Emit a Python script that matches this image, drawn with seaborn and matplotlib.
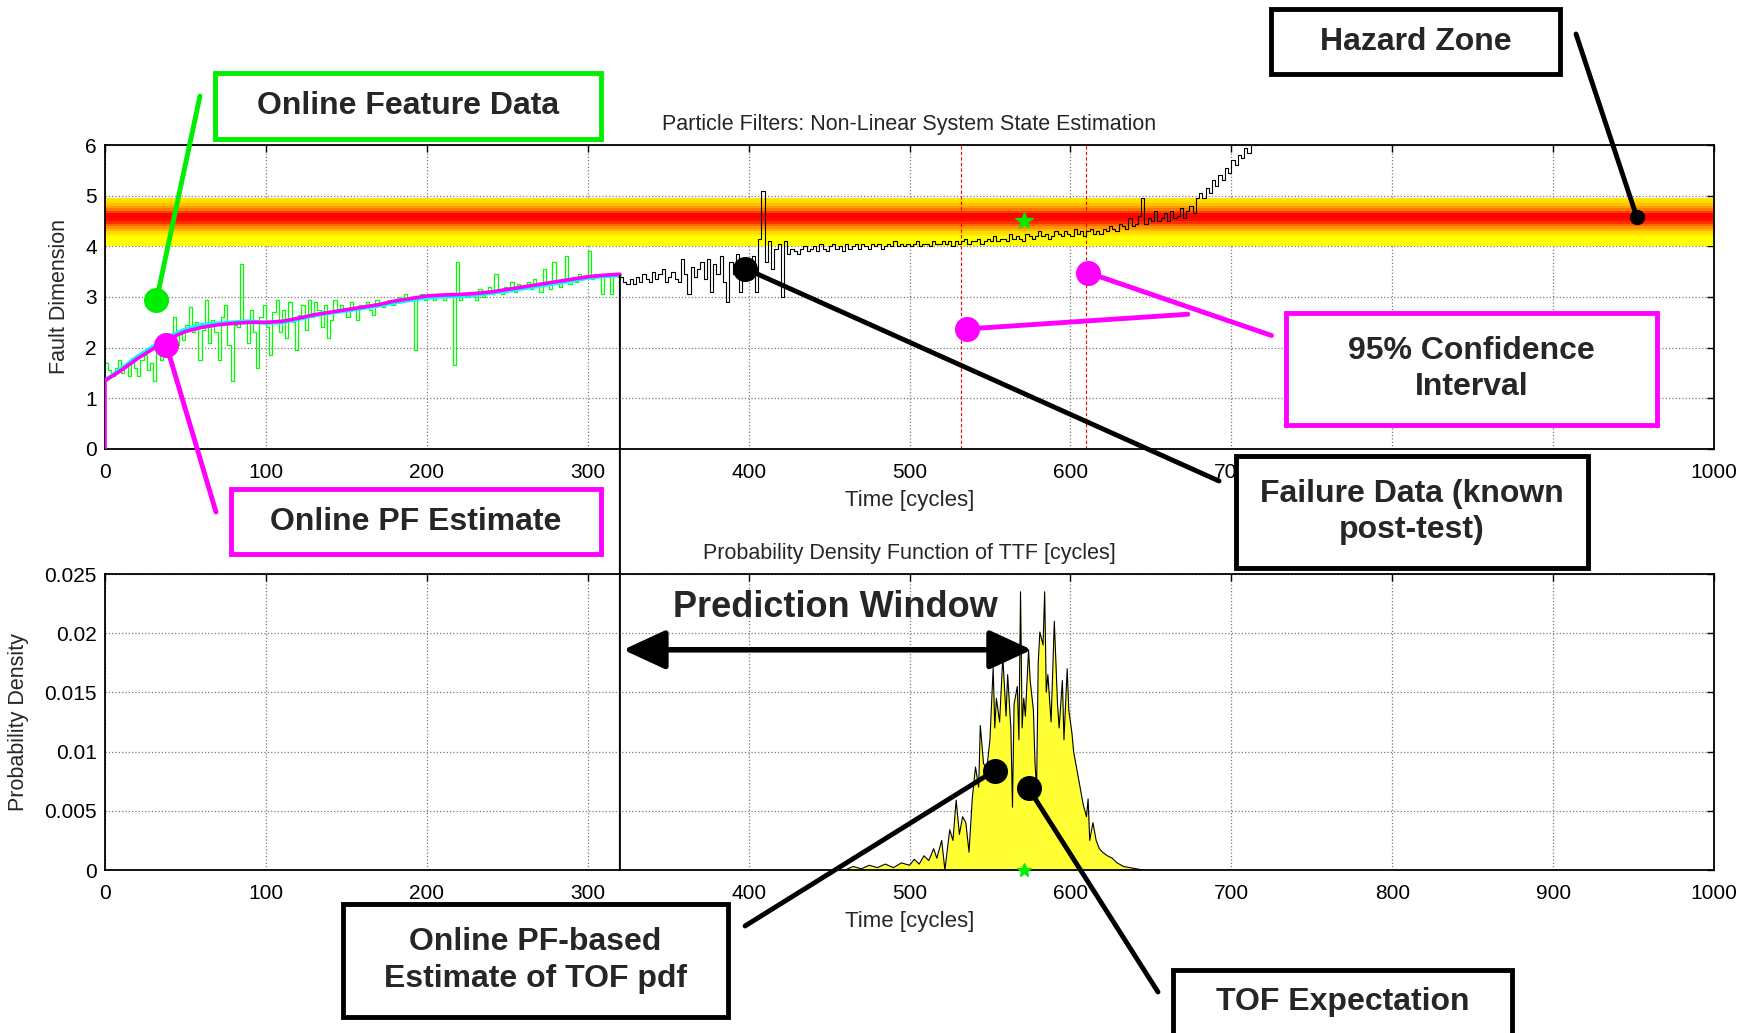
import matplotlib
matplotlib.use("Agg")
import matplotlib.pyplot as plt
import numpy as np
import seaborn as sns
from matplotlib.patches import Rectangle, ConnectionPatch

# ---------------- data ----------------
# online feature measurements (cycles 0..320, every 2 cycles)
feature_cycles = list(range(0, 321, 2))
feature_values = [
    1.70, 1.55, 1.45, 1.60, 1.75, 1.50, 1.65, 1.45, 1.80, 1.60,
    1.45, 1.75, 1.85, 1.55, 1.70, 1.35, 1.90, 1.75, 2.05, 1.85,
    2.25, 2.60, 2.05, 2.35, 2.15, 2.45, 2.80, 2.30, 2.50, 1.75,
    2.35, 2.95, 2.10, 2.55, 2.30, 1.75, 2.60, 2.85, 2.05, 1.35,
    2.45, 2.40, 3.65, 2.55, 2.10, 2.75, 2.30, 1.60, 2.60, 2.85,
    2.40, 1.85, 2.70, 2.95, 2.30, 2.75, 2.20, 2.90, 2.50, 1.95,
    2.65, 2.85, 2.35, 2.95, 2.60, 2.90, 2.75, 2.40, 2.85, 2.20,
    2.55, 2.95, 2.70, 2.85, 2.75, 2.60, 2.90, 2.80, 2.55, 2.85,
    2.80, 2.90, 2.75, 2.65, 2.95, 2.85, 2.80, 2.90, 2.95, 2.85,
    2.95, 3.00, 2.90, 3.05, 2.95, 3.00, 1.95, 3.00, 3.05, 2.95,
    3.00, 3.05, 2.95, 3.05, 3.00, 2.95, 3.05, 3.00, 1.65, 3.70,
    2.95, 3.05, 3.00, 3.10, 3.05, 2.95, 3.15, 3.00, 3.10, 3.20,
    3.05, 3.45, 3.10, 3.05, 3.20, 3.15, 3.30, 3.10, 3.25, 3.15,
    3.20, 3.30, 3.15, 3.35, 3.20, 3.10, 3.55, 3.25, 3.15, 3.70,
    3.30, 3.20, 3.35, 3.80, 3.25, 3.40, 3.30, 3.45, 3.35, 3.40,
    3.90, 3.35, 3.45, 3.40, 3.05, 3.45, 3.40, 3.05, 3.45, 3.40,
    3.35,
]

# particle-filter state estimate (magenta) and its companion trace (cyan)
pf_cycles = [0] + list(range(0, 321, 10))
pf_values = [0.0,
    1.35, 1.55, 1.78, 1.98, 2.18, 2.32, 2.40, 2.45, 2.48, 2.50,
    2.50, 2.52, 2.58, 2.65, 2.70, 2.75, 2.80, 2.85, 2.92, 2.97,
    3.02, 3.04, 3.05, 3.07, 3.10, 3.15, 3.20, 3.25, 3.30, 3.35,
    3.40, 3.43, 3.45,
]
cyan_cycles = list(range(0, 321, 10))
cyan_values = [
    1.35, 1.58, 1.82, 2.02, 2.22, 2.36, 2.45, 2.48, 2.50, 2.52,
    2.49, 2.50, 2.56, 2.64, 2.69, 2.73, 2.78, 2.83, 2.89, 2.94,
    2.99, 3.01, 3.02, 3.04, 3.08, 3.12, 3.17, 3.22, 3.27, 3.32,
    3.38, 3.41, 3.43,
]

# failure data known post-test (cycles 320..724, every 2 cycles)
failure_cycles = list(range(320, 725, 2))
failure_values = [
    3.40, 3.30, 3.25, 3.35, 3.25, 3.40, 3.30, 3.45, 3.35, 3.30,
    3.50, 3.35, 3.45, 3.55, 3.30, 3.40, 3.50, 3.35, 3.30, 3.75,
    3.45, 3.05, 3.60, 3.40, 3.55, 3.70, 3.35, 3.75, 3.10, 3.65,
    3.45, 3.80, 3.30, 2.90, 3.70, 3.45, 3.85, 3.10, 3.55, 3.75,
    3.35, 3.80, 3.10, 4.15, 5.10, 3.70, 4.10, 3.55, 3.95, 4.05,
    3.00, 4.10, 3.85, 3.95, 3.90, 3.85, 3.95, 4.00, 3.90, 3.95,
    4.00, 3.90, 4.05, 3.95, 3.90, 4.00, 4.05, 3.95, 4.00, 3.90,
    4.05, 3.95, 4.00, 4.05, 3.95, 4.05, 4.00, 3.95, 4.05, 4.00,
    4.05, 3.95, 4.00, 4.05, 4.00, 4.10, 4.00, 4.05, 4.00, 4.05,
    4.00, 4.05, 4.10, 4.00, 4.05, 4.05, 4.00, 4.10, 4.05, 4.05,
    4.10, 4.05, 4.10, 4.00, 4.10, 4.05, 4.10, 4.15, 4.05, 4.10,
    4.10, 4.15, 4.05, 4.10, 4.15, 4.10, 4.20, 4.10, 4.15, 4.15,
    4.10, 4.25, 4.15, 4.20, 4.15, 4.10, 4.25, 4.20, 4.15, 4.20,
    4.30, 4.20, 4.25, 4.15, 4.20, 4.30, 4.25, 4.20, 4.30, 4.25,
    4.20, 4.35, 4.25, 4.30, 4.20, 4.30, 4.35, 4.25, 4.30, 4.25,
    4.35, 4.30, 4.40, 4.35, 4.30, 4.45, 4.40, 4.35, 4.55, 4.40,
    4.45, 4.60, 4.95, 4.45, 4.55, 4.50, 4.70, 4.50, 4.55, 4.65,
    4.50, 4.70, 4.55, 4.60, 4.75, 4.55, 4.70, 4.80, 4.65, 4.95,
    5.05, 4.95, 5.15, 5.05, 5.30, 5.20, 5.40, 5.30, 5.55, 5.45,
    5.70, 5.60, 5.80, 5.75, 5.95, 5.85, 6.10, 6.00, 6.20, 6.15,
    6.25, 6.20, 6.30,
]

# hazard zone: stripe edges and shade (0 = red core, 1 = yellow rim)
hazard_edges = [4.00, 4.05, 4.10, 4.15, 4.20, 4.25, 4.30, 4.35, 4.40, 4.45,
                4.50, 4.55, 4.60, 4.65, 4.70, 4.75, 4.80, 4.85, 4.90, 4.95]
hazard_shade = [1.00, 1.00, 1.00, 1.00, 0.92, 0.85, 0.72, 0.58, 0.40, 0.18,
                0.05, 0.00, 0.02, 0.25, 0.48, 0.62, 0.76, 0.85, 0.88]

# PF-based estimate of time-to-failure pdf
pdf_cycles = [460, 465, 470, 475, 480, 485, 490, 495, 500, 503, 506, 509, 512,
              515, 517, 520, 522, 525, 527, 529, 531, 533, 535, 537, 539, 541,
              543, 544, 546, 548, 550, 552, 553, 554, 556, 558, 560, 561, 563,
              564, 565, 567, 568, 569, 570, 571, 572, 574, 575, 577, 578, 579,
              580, 581, 583, 584, 585, 586, 588, 590, 592, 593, 595, 596, 598,
              599, 601, 602, 604, 606, 608, 610, 611, 612, 614, 616, 618, 620,
              623, 626, 629, 633, 637, 641, 645]
pdf_values = [0.0, 0.0003, 0.0001, 0.0004, 0.0002, 0.0005, 0.0002, 0.0006,
              0.0004, 0.0009, 0.0005, 0.0012, 0.0008, 0.0018, 0.0010, 0.0025,
              0.0000, 0.0034, 0.0025, 0.0059, 0.0030, 0.0045, 0.0040, 0.0015,
              0.0060, 0.0087, 0.0070, 0.0122, 0.0090, 0.0085, 0.0110, 0.0171,
              0.0120, 0.0145, 0.0125, 0.0180, 0.0130, 0.0165, 0.0120, 0.0053,
              0.0140, 0.0155, 0.0110, 0.0235, 0.0120, 0.0145, 0.0130, 0.0186,
              0.0160, 0.0135, 0.0090, 0.0070, 0.0175, 0.0201, 0.0190, 0.0235,
              0.0150, 0.0165, 0.0125, 0.0210, 0.0140, 0.0120, 0.0160, 0.0110,
              0.0170, 0.0135, 0.0115, 0.0100, 0.0085, 0.0070, 0.0055, 0.0045,
              0.0060, 0.0025, 0.0040, 0.0025, 0.0018, 0.0015, 0.0012, 0.0010,
              0.0006, 0.0003, 0.0002, 0.0001, 0.0]

current_cycle = 320
ci_bounds = [532, 610]
tof_expectation = 571
tof_marker_level = 4.5

x_ticks = list(range(0, 1001, 100))
fault_ticks = [0, 1, 2, 3, 4, 5, 6]
density_ticks = [0, 0.005, 0.01, 0.015, 0.02, 0.025]
density_labels = ["0", "0.005", "0.01", "0.015", "0.02", "0.025"]

# ---------------- style ----------------
sns.set_theme(style="white")
plt.rcParams["font.family"] = ["Liberation Sans", "DejaVu Sans"]

W, H = 1754, 1033
fig = plt.figure(figsize=(W / 100, H / 100), dpi=100)
fig.patch.set_facecolor("white")


def px_axes(l, t, r, b, **kw):
    return fig.add_axes([l / W, 1 - b / H, (r - l) / W, (b - t) / H], **kw)


ax1 = px_axes(105, 145, 1714, 449)
ax2 = px_axes(105, 574, 1714, 870)

for ax in (ax1, ax2):
    ax.set_xlim(0, 1000)
    ax.set_xticks(x_ticks)
    ax.set_xticklabels([str(t) for t in x_ticks])
    ax.grid(True, ls=":", color="#7a7a7a", lw=0.9)
    ax.set_axisbelow(True)
    ax.tick_params(direction="in", top=True, right=True, length=5, width=1,
                   labelsize=15, colors="black", pad=6)
    ax.tick_params(axis="x", pad=10)
    for s in ax.spines.values():
        s.set_color("black")
        s.set_linewidth(1.3)
    ax.set_xlabel("Time [cycles]", fontsize=16, labelpad=6)

# ---------------- state estimation panel ----------------
ax1.set_ylim(0, 6)
ax1.set_yticks(fault_ticks)
ax1.set_yticklabels([str(t) for t in fault_ticks])
ax1.set_ylabel("Fault Dimension", fontsize=15.5, labelpad=11)
ax1.set_title("Particle Filters: Non-Linear System State Estimation", fontsize=15.5, pad=11)

shade = np.array(hazard_shade).reshape(-1, 1)
ax1.pcolormesh([0, 1000], hazard_edges, shade, cmap="autumn", vmin=0, vmax=1,
               shading="flat", zorder=1)

for c in ci_bounds:
    ax1.axvline(c, color="red", lw=0.8, ls=(0, (3, 2)), zorder=2)

sns.lineplot(x=feature_cycles, y=feature_values, ax=ax1, color="#00ff00", lw=0.9,
             drawstyle="steps-post", estimator=None, sort=False, zorder=2)
sns.lineplot(x=cyan_cycles, y=cyan_values, ax=ax1, color="#00ffff", lw=3.0,
             estimator=None, sort=False, zorder=3)
sns.lineplot(x=pf_cycles, y=pf_values, ax=ax1, color="#ff00ff", lw=2.6,
             estimator=None, sort=False, zorder=4)
sns.lineplot(x=failure_cycles, y=failure_values, ax=ax1, color="black", lw=0.8,
             drawstyle="steps-post", estimator=None, sort=False, zorder=3)
ax1.plot(tof_expectation, tof_marker_level, marker="*", color="#00ee00", ms=13, zorder=6)

# ---------------- TTF pdf panel ----------------
ax2.set_ylim(0, 0.025)
ax2.set_yticks(density_ticks)
ax2.set_yticklabels(density_labels)
ax2.set_ylabel("Probability Density", fontsize=15.5, labelpad=11)
ax2.set_title("Probability Density Function of TTF [cycles]", fontsize=15.5, pad=11)

ax2.fill_between(pdf_cycles, pdf_values, color="#ffff33", lw=0, zorder=2)
sns.lineplot(x=pdf_cycles, y=pdf_values, ax=ax2, color="black", lw=0.8,
             estimator=None, sort=False, zorder=3)
ax2.plot(tof_expectation, 0, marker="*", color="#00ee00", ms=10, clip_on=False, zorder=6)

ax2.annotate("", xy=(576, 0.0186), xytext=(322, 0.0186),
             arrowprops=dict(arrowstyle="<|-|>,head_length=1.3,head_width=0.6",
                             color="black", lw=4, mutation_scale=20,
                             shrinkA=0, shrinkB=0), zorder=7)
ax2.text(454, 0.0222, "Prediction Window", fontsize=26, fontweight="bold",
         ha="center", va="center", zorder=7)

# current-time marker spanning both panels
fig.add_artist(ConnectionPatch(xyA=(current_cycle, 3.42), coordsA=ax1.transData,
                               xyB=(current_cycle, 0), coordsB=ax2.transData,
                               color="black", lw=1.4))

# ---------------- callouts ----------------
ov = fig.add_axes([0, 0, 1, 1], zorder=10)
ov.set_xlim(0, W)
ov.set_ylim(H, 0)
ov.set_axis_off()
ov.patch.set_alpha(0)

GREEN = "#00ee00"
MAGENTA = "#ff00ff"


def leader(ax, xy, end, color, end_in_ax=False, ms=17, lw=3.5):
    ov.annotate("", xy=xy, xycoords=ax.transData, xytext=end,
                textcoords=ax.transData if end_in_ax else "data",
                annotation_clip=False,
                arrowprops=dict(arrowstyle="-", color=color, lw=lw, shrinkA=0, shrinkB=0))
    ov.plot([xy[0]], [xy[1]], "o", transform=ax.transData, ms=ms, color=color,
            clip_on=False)


def box(l, t, r, b, color, text, ty=None):
    ov.add_patch(Rectangle((l, t), r - l, b - t, fc="white", ec=color, lw=3.5, zorder=5))
    ov.text((l + r) / 2, (t + b) / 2 if ty is None else ty, text, ha="center", va="center",
            fontsize=23, fontweight="bold", zorder=6, linespacing=1.3)


leader(ax1, (32, 2.94), (200, 96), GREEN)
leader(ax1, (38, 2.06), (216, 512), MAGENTA)
leader(ax1, (398, 3.56), (1219, 481), "black")
leader(ax1, (952, 4.58), (1576, 34), "black", ms=10)
leader(ax1, (536, 2.37), (673, 2.66), MAGENTA, end_in_ax=True)
leader(ax1, (611, 3.48), (725, 2.24), MAGENTA, end_in_ax=True)
leader(ax2, (553, 0.0084), (745, 926), "black")
leader(ax2, (574, 0.0069), (1158, 992), "black")

box(1271, 9, 1560, 74, "black", "Hazard Zone")
box(215, 73, 601, 139, GREEN, "Online Feature Data")
box(231, 489, 601, 554, MAGENTA, "Online PF Estimate")
box(1286, 313, 1657, 425, MAGENTA, "95% Confidence\nInterval")
box(1236, 456, 1588, 568, "black", "Failure Data (known\npost-test)")
box(343, 904, 728, 1017, "black", "Online PF-based\nEstimate of TOF pdf")
box(1173, 970, 1512, 1040, "black", "TOF Expectation", ty=1002)

fig.savefig("out.png", dpi=100)
